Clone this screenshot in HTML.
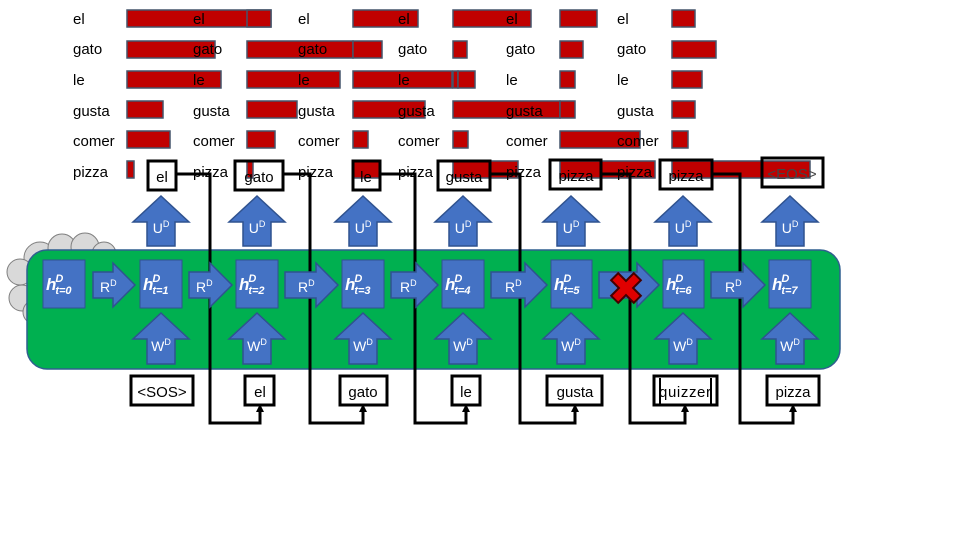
<!DOCTYPE html>
<html><head><meta charset="utf-8"><style>
body{margin:0;background:#fff}
svg{display:block;font-family:"Liberation Sans",sans-serif}
.w{font-size:15px;fill:#000}
.b{fill:#c00000;stroke:#44546a;stroke-width:1.5}
.a{fill:#4472c4;stroke:#2f528f;stroke-width:1.5}
.hb{fill:#4472c4;stroke:#2f528f;stroke-width:1}
.lt{fill:#fff;font-size:14px}
.bx{fill:none;stroke:#000;stroke-width:3}
.ln{fill:none;stroke:#000;stroke-width:3}
</style></head><body>
<svg width="960" height="540" viewBox="0 0 960 540">
<!-- bars -->
<g class="b">
<rect x="127" y="10" width="144" height="17"/><rect x="247" y="10" width="24" height="17"/>
<rect x="127" y="41" width="88" height="17"/><rect x="247" y="41" width="106" height="17"/><rect x="353" y="41" width="29" height="17"/>
<rect x="127" y="71" width="94" height="17"/><rect x="247" y="71" width="93" height="17"/><rect x="353" y="71" width="99" height="17"/><rect x="453" y="71" width="5" height="17"/><rect x="458" y="71" width="17" height="17"/>
<rect x="127" y="101" width="36" height="17"/><rect x="247" y="101" width="50" height="17"/><rect x="353" y="101" width="72" height="17"/>
<rect x="127" y="131" width="43" height="17"/><rect x="247" y="131" width="28" height="17"/><rect x="353" y="131" width="15" height="17"/>
<rect x="127" y="161" width="7" height="17"/><rect x="247" y="161" width="6" height="17"/><rect x="353" y="161" width="27" height="17"/>
<rect x="353" y="10" width="65" height="17"/><rect x="453" y="10" width="78" height="17"/><rect x="560" y="10" width="37" height="17"/><rect x="672" y="10" width="23" height="17"/>
<rect x="453" y="41" width="14" height="17"/><rect x="560" y="41" width="23" height="17"/><rect x="672" y="41" width="44" height="17"/>
<rect x="560" y="71" width="15" height="17"/><rect x="672" y="71" width="30" height="17"/>
<rect x="453" y="101" width="107" height="17"/><rect x="560" y="101" width="15" height="17"/><rect x="672" y="101" width="23" height="17"/>
<rect x="453" y="131" width="15" height="17"/><rect x="560" y="131" width="80" height="17"/><rect x="672" y="131" width="16" height="17"/>
<rect x="453" y="161" width="65" height="17"/><rect x="560" y="161" width="95" height="17"/><rect x="672" y="161" width="138" height="17"/>
</g>
<g class="w">
<text x="73" y="24">el</text><text x="73" y="54">gato</text><text x="73" y="85">le</text><text x="73" y="116">gusta</text><text x="73" y="146">comer</text><text x="73" y="177">pizza</text>
<text x="193" y="24">el</text><text x="193" y="54">gato</text><text x="193" y="85">le</text><text x="193" y="116">gusta</text><text x="193" y="146">comer</text><text x="193" y="177">pizza</text>
<text x="298" y="24">el</text><text x="298" y="54">gato</text><text x="298" y="85">le</text><text x="298" y="116">gusta</text><text x="298" y="146">comer</text><text x="298" y="177">pizza</text>
<text x="398" y="24">el</text><text x="398" y="54">gato</text><text x="398" y="85">le</text><text x="398" y="116">gusta</text><text x="398" y="146">comer</text><text x="398" y="177">pizza</text>
<text x="506" y="24">el</text><text x="506" y="54">gato</text><text x="506" y="85">le</text><text x="506" y="116">gusta</text><text x="506" y="146">comer</text><text x="506" y="177">pizza</text>
<text x="617" y="24">el</text><text x="617" y="54">gato</text><text x="617" y="85">le</text><text x="617" y="116">gusta</text><text x="617" y="146">comer</text><text x="617" y="177">pizza</text>
</g>
<!-- cloud + panel -->
<g fill="#d9d9d9" stroke="#7f7f7f" stroke-width="1">
<circle cx="40" cy="258" r="16"/><circle cx="62" cy="248" r="14"/><circle cx="85" cy="247" r="14"/><circle cx="104" cy="254" r="12"/><circle cx="20" cy="272" r="13"/><circle cx="22" cy="298" r="13"/><circle cx="35" cy="312" r="12"/>
</g>
<rect x="27" y="250" width="813" height="119" rx="20" fill="#00b050" stroke="#2f5f8f" stroke-width="1.5"/>
<!-- connector lines -->
<g class="ln">
<polyline points="176,174 210,174 210,423 260,423 260,410"/>
<polyline points="283,174 310,174 310,423 363,423 363,410"/>
<polyline points="380,174 415,174 415,423 466,423 466,410"/>
<polyline points="490,174 520,174 520,423 575,423 575,410"/>
<polyline points="601,174 630,174 630,423 685,423 685,410"/>
<polyline points="712,174 740,174 740,423 793,423 793,410"/>
</g>
<g fill="#000">
<polygon points="256,412 264,412 260,404"/><polygon points="359,412 367,412 363,404"/><polygon points="462,412 470,412 466,404"/><polygon points="571,412 579,412 575,404"/><polygon points="681,412 689,412 685,404"/><polygon points="789,412 797,412 793,404"/>
</g>
<!-- h boxes -->
<g class="hb">
<rect x="43" y="260" width="42" height="48"/><rect x="140" y="260" width="42" height="48"/><rect x="236" y="260" width="42" height="48"/><rect x="342" y="260" width="42" height="48"/><rect x="442" y="260" width="42" height="48"/><rect x="551" y="260" width="41" height="48"/><rect x="663" y="260" width="41" height="48"/><rect x="769" y="260" width="42" height="48"/>
</g>
<g fill="#fff" font-style="italic" font-weight="bold">
<text x="46" y="290" font-size="17">h<tspan font-size="11" dx="-1" dy="-8">D</tspan><tspan font-size="11" dx="-8" dy="12">t=0</tspan></text>
<text x="143" y="290" font-size="17">h<tspan font-size="11" dx="-1" dy="-8">D</tspan><tspan font-size="11" dx="-8" dy="12">t=1</tspan></text>
<text x="239" y="290" font-size="17">h<tspan font-size="11" dx="-1" dy="-8">D</tspan><tspan font-size="11" dx="-8" dy="12">t=2</tspan></text>
<text x="345" y="290" font-size="17">h<tspan font-size="11" dx="-1" dy="-8">D</tspan><tspan font-size="11" dx="-8" dy="12">t=3</tspan></text>
<text x="445" y="290" font-size="17">h<tspan font-size="11" dx="-1" dy="-8">D</tspan><tspan font-size="11" dx="-8" dy="12">t=4</tspan></text>
<text x="554" y="290" font-size="17">h<tspan font-size="11" dx="-1" dy="-8">D</tspan><tspan font-size="11" dx="-8" dy="12">t=5</tspan></text>
<text x="666" y="290" font-size="17">h<tspan font-size="11" dx="-1" dy="-8">D</tspan><tspan font-size="11" dx="-8" dy="12">t=6</tspan></text>
<text x="772" y="290" font-size="17">h<tspan font-size="11" dx="-1" dy="-8">D</tspan><tspan font-size="11" dx="-8" dy="12">t=7</tspan></text>
</g>
<!-- R arrows -->
<g class="a">
<polygon points="93,272 113,272 113,263 135,285 113,307 113,298 93,298"/>
<polygon points="189,272 210,272 210,263 232,285 210,307 210,298 189,298"/>
<polygon points="285,272 316,272 316,263 338,285 316,307 316,298 285,298"/>
<polygon points="391,272 416,272 416,263 438,285 416,307 416,298 391,298"/>
<polygon points="491,272 525,272 525,263 547,285 525,307 525,298 491,298"/>
<polygon points="599,272 637,272 637,263 659,285 637,307 637,298 599,298"/>
<polygon points="711,272 743,272 743,263 765,285 743,307 743,298 711,298"/>
</g>
<g class="lt">
<text x="100" y="292">R<tspan font-size="9" dy="-6">D</tspan></text>
<text x="196" y="292">R<tspan font-size="9" dy="-6">D</tspan></text>
<text x="298" y="292">R<tspan font-size="9" dy="-6">D</tspan></text>
<text x="400" y="292">R<tspan font-size="9" dy="-6">D</tspan></text>
<text x="505" y="292">R<tspan font-size="9" dy="-6">D</tspan></text>
<text x="725" y="292">R<tspan font-size="9" dy="-6">D</tspan></text>
</g>
<!-- X -->
<g transform="translate(626,288) rotate(45)"><path d="M-5,-16 H5 V-5 H16 V5 H5 V16 H-5 V5 H-16 V-5 H-5 Z" fill="#e00000" stroke="#400" stroke-width="2"/></g>
<!-- U and W arrows -->
<g class="a">
<polygon points="161,196 189,222 175,222 175,246 147,246 147,222 133,222"/>
<polygon points="257,196 285,222 271,222 271,246 243,246 243,222 229,222"/>
<polygon points="363,196 391,222 377,222 377,246 349,246 349,222 335,222"/>
<polygon points="463,196 491,222 477,222 477,246 449,246 449,222 435,222"/>
<polygon points="571,196 599,222 585,222 585,246 557,246 557,222 543,222"/>
<polygon points="683,196 711,222 697,222 697,246 669,246 669,222 655,222"/>
<polygon points="790,196 818,222 804,222 804,246 776,246 776,222 762,222"/>
<polygon points="161,313 189,339 175,339 175,364 147,364 147,339 133,339"/>
<polygon points="257,313 285,339 271,339 271,364 243,364 243,339 229,339"/>
<polygon points="363,313 391,339 377,339 377,364 349,364 349,339 335,339"/>
<polygon points="463,313 491,339 477,339 477,364 449,364 449,339 435,339"/>
<polygon points="571,313 599,339 585,339 585,364 557,364 557,339 543,339"/>
<polygon points="683,313 711,339 697,339 697,364 669,364 669,339 655,339"/>
<polygon points="790,313 818,339 804,339 804,364 776,364 776,339 762,339"/>
</g>
<g class="lt" text-anchor="middle">
<text x="161" y="233">U<tspan font-size="9" dy="-6">D</tspan></text><text x="257" y="233">U<tspan font-size="9" dy="-6">D</tspan></text><text x="363" y="233">U<tspan font-size="9" dy="-6">D</tspan></text><text x="463" y="233">U<tspan font-size="9" dy="-6">D</tspan></text><text x="571" y="233">U<tspan font-size="9" dy="-6">D</tspan></text><text x="683" y="233">U<tspan font-size="9" dy="-6">D</tspan></text><text x="790" y="233">U<tspan font-size="9" dy="-6">D</tspan></text>
<text x="161" y="351">W<tspan font-size="9" dy="-6">D</tspan></text><text x="257" y="351">W<tspan font-size="9" dy="-6">D</tspan></text><text x="363" y="351">W<tspan font-size="9" dy="-6">D</tspan></text><text x="463" y="351">W<tspan font-size="9" dy="-6">D</tspan></text><text x="571" y="351">W<tspan font-size="9" dy="-6">D</tspan></text><text x="683" y="351">W<tspan font-size="9" dy="-6">D</tspan></text><text x="790" y="351">W<tspan font-size="9" dy="-6">D</tspan></text>
</g>
<!-- output boxes -->
<g class="bx">
<rect x="148" y="161" width="28" height="29"/><rect x="235" y="161" width="48" height="29"/><rect x="353" y="161" width="27" height="29"/><rect x="438" y="161" width="52" height="29"/><rect x="550" y="160" width="51" height="29"/><rect x="660" y="160" width="52" height="29"/><rect x="762" y="158" width="61" height="29"/>
</g>
<g class="w" text-anchor="middle">
<text x="162" y="182">el</text><text x="259" y="182">gato</text><text x="366" y="182">le</text><text x="464" y="182">gusta</text><text x="576" y="181">pizza</text><text x="686" y="181">pizza</text><text x="792" y="179" fill="#444">&lt;EOS&gt;</text>
</g>
<!-- input boxes -->
<g class="bx">
<rect x="131" y="376" width="62" height="29"/><rect x="245" y="376" width="29" height="29"/><rect x="340" y="376" width="47" height="29"/><rect x="452" y="376" width="28" height="29"/><rect x="547" y="376" width="55" height="29"/><rect x="654" y="376" width="63" height="29"/><rect x="767" y="376" width="52" height="29"/>
</g>
<line x1="660" y1="378" x2="660" y2="404" stroke="#000" stroke-width="2"/><line x1="711" y1="378" x2="711" y2="404" stroke="#000" stroke-width="2"/>
<g class="w" text-anchor="middle">
<text x="162" y="397">&lt;SOS&gt;</text><text x="260" y="397">el</text><text x="363" y="397">gato</text><text x="466" y="397">le</text><text x="575" y="397">gusta</text><text x="685" y="397" textLength="52">quizzer</text><text x="793" y="397">pizza</text>
</g>
</svg>
</body></html>
